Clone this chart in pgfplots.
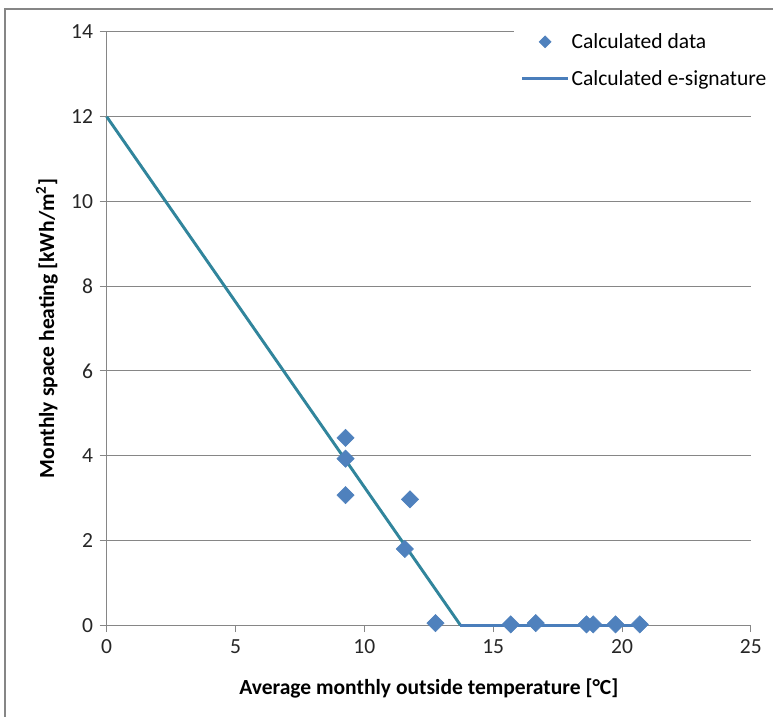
\documentclass[border=0pt]{standalone}
\usepackage{fontspec}
\setmainfont{Carlito}
\usepackage{pgfplots}
\pgfplotsset{compat=1.18}
\definecolor{markblue}{HTML}{4F81BD}
\definecolor{lineblue}{HTML}{4A7EBB}
\definecolor{teal2}{HTML}{31859C}
\definecolor{gridgray}{HTML}{868686}
\begin{document}
\begin{tikzpicture}
\begin{axis}[
  scale only axis,
  width=484.5pt, height=446.25pt,
  xmin=0, xmax=25, ymin=0, ymax=14,
  xtick={0,5,...,25}, ytick={0,2,...,14},
  axis x line=bottom, axis y line=left,
  axis line style={gridgray, line width=0.75pt, -},
  tick align=outside, tick style={gridgray, line width=0.75pt},
  major tick length=5.25pt,
  ymajorgrids, grid style={gridgray, line width=0.75pt},
  /pgf/number format/assume math mode=true,
  tick label style={font=\fontsize{16.2}{19}\selectfont, text=black!85},
  yticklabel style={xshift=-1.5pt},
  xticklabel style={yshift=-2pt},
  xlabel={Average monthly outside temperature [°C]},
  ylabel={Monthly space heating [kWh/m\textsuperscript{2}]},
  label style={font=\fontsize{16.2}{19}\selectfont\bfseries},
  xlabel style={at={(axis description cs:0.5,-0.1059)}, anchor=center},
  ylabel style={at={(axis description cs:-0.0929,0.5)}, anchor=center},
  clip=false,
  legend style={at={(axis description cs:0.632,1.007)}, anchor=north west,
    draw=none, fill=white, font=\fontsize{16.2}{19}\selectfont,
    row sep=11pt, cells={anchor=west}, inner xsep=5pt,
    nodes={inner xsep=1.5pt}},
  legend image code/.code={\draw[#1] (0pt,0pt) -- (34.5pt,0pt);},
]
\addplot[teal2, line width=2.2pt, forget plot] coordinates {(0,12) (13.73,0)};
\addplot[lineblue, line width=2.2pt, forget plot] coordinates {(13.73,0) (20.69,0)};
\addplot[only marks, mark=square*, mark size=4.6pt,
  mark options={rotate=45, fill=markblue, draw=markblue},
  legend image code/.code={\draw[only marks, mark=square*, mark size=3.2pt, mark options={rotate=45, fill=markblue, draw=markblue}] plot coordinates {(17.25pt,0pt)};}]
  coordinates {
  (9.27,4.42) (9.27,3.93) (9.27,3.07) (11.77,2.97) (11.57,1.80)
  (12.76,0.05) (15.68,0.02) (16.65,0.05) (18.62,0.02) (18.88,0.02)
  (19.75,0.02) (20.69,0.02)};
\addlegendentry{Calculated data}
\addlegendimage{lineblue, line width=2.2pt}
\addlegendentry{Calculated e-signature}
\path ([shift={(-80.25pt,-69pt)}]rel axis cs:0,0) rectangle ([shift={(16.5pt,24pt)}]rel axis cs:1,1);
\draw[gridgray, line width=1.5pt] ([shift={(-76.5pt,-69pt)}]rel axis cs:0,0) -- ([shift={(-76.5pt,17.25pt)}]rel axis cs:0,1) -- ([shift={(16.5pt,17.25pt)}]rel axis cs:1,1);
\end{axis}
\end{tikzpicture}
\end{document}
